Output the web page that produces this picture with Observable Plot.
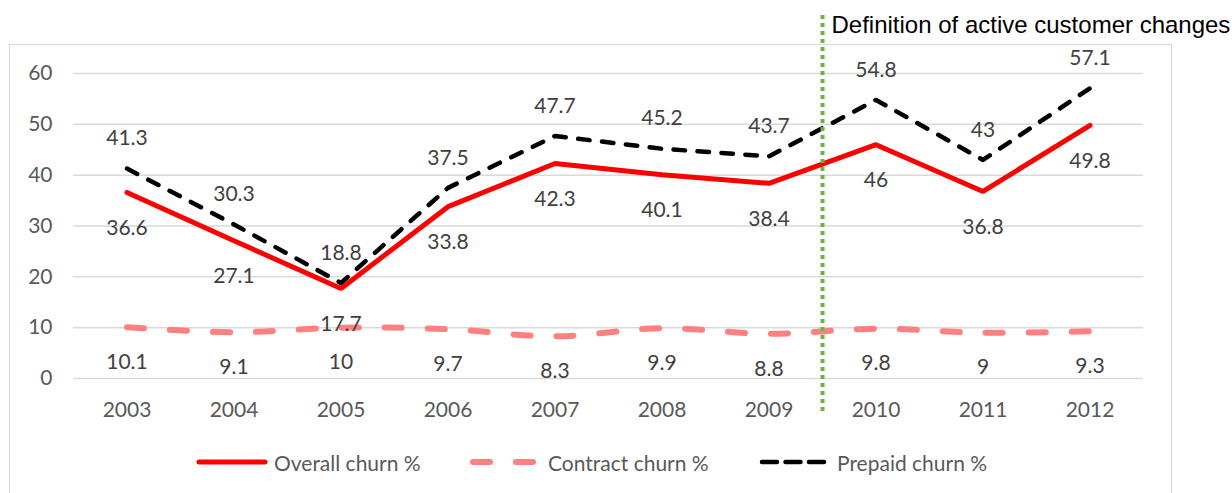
<!DOCTYPE html>
<html>
<head>
<meta charset="utf-8">
<script src="https://cdn.jsdelivr.net/npm/d3@7"></script>
<script src="https://cdn.jsdelivr.net/npm/@observablehq/plot@0.6"></script>
<style>
  html, body { margin: 0; padding: 0; background: #fff; }
  #wrap { position: relative; width: 1232px; height: 493px; overflow: hidden; background: #fff; }
  #frame { position: absolute; left: 9px; top: 44px; width: 1163px; height: 470px; border: 1.5px solid #D9D9D9; box-sizing: border-box; }
  #chart { position: absolute; left: 0; top: 0; }
  #legend { position: absolute; left: 0; top: 448px; width: 1232px; height: 28px;
            font-family: Lato, sans-serif; font-size: 21px; color: #595959; }
  .item { position: absolute; top: 0; display: flex; align-items: center; gap: 6px; height: 28px; }
</style>
</head>
<body>
<div id="wrap">
  <div id="frame"></div>
  <div id="chart"></div>
  <div id="legend"></div>
</div>
<script>
const years = [2003, 2004, 2005, 2006, 2007, 2008, 2009, 2010, 2011, 2012];
const overall = [36.6, 27.1, 17.7, 33.8, 42.3, 40.1, 38.4, 46, 36.8, 49.8];
const contract = [10.1, 9.1, 10, 9.7, 8.3, 9.9, 8.8, 9.8, 9, 9.3];
const prepaid = [41.3, 30.3, 18.8, 37.5, 47.7, 45.2, 43.7, 54.8, 43, 57.1];
const yTicks = [0, 10, 20, 30, 40, 50, 60];
const seriesNames = ["Overall churn %", "Contract churn %", "Prepaid churn %"];
const changeYear = 2009.5;
const annotation = "Definition of active customer changes";

const rows = (vals) => years.map((y, i) => ({year: y, value: vals[i]}));
const overallRows = rows(overall);
const contractRows = rows(contract);
const prepaidRows = rows(prepaid);

const styles = {
  overall: {stroke: "#FF0000", strokeWidth: 5, dash: null},
  contract: {stroke: "#FF8080", strokeWidth: 6, dash: "17,26"},
  prepaid: {stroke: "#000000", strokeWidth: 4.5, dash: "11.5,12.5"}
};
const labelColor = "#404040";
const fs = 21;

const chart = Plot.plot({
  width: 1232,
  height: 493,
  marginLeft: 73,
  marginRight: 89,
  marginTop: 73,
  marginBottom: 115,
  style: {fontFamily: "Lato, sans-serif", fontSize: fs + "px", background: "transparent", overflow: "visible"},
  x: {domain: [2002.5, 2012.5]},
  y: {domain: [0, 60]},
  marks: [
    Plot.gridY({ticks: yTicks, stroke: "#D9D9D9", strokeOpacity: 1, strokeWidth: 1.5}),
    Plot.axisY({ticks: yTicks, tickSize: 0, tickPadding: 21, color: "#595959", fontSize: fs, label: null}),
    Plot.axisX({ticks: years, tickFormat: d => String(d), tickSize: 0, tickPadding: 24, color: "#595959", fontSize: fs, label: null}),
    Plot.lineY(contractRows, {x: "year", y: "value", stroke: styles.contract.stroke, strokeWidth: styles.contract.strokeWidth,
      strokeDasharray: styles.contract.dash, strokeLinecap: "round", curve: "catmull-rom"}),
    Plot.lineY(overallRows, {x: "year", y: "value", stroke: styles.overall.stroke, strokeWidth: styles.overall.strokeWidth,
      strokeLinejoin: "miter", strokeLinecap: "round"}),
    Plot.lineY(prepaidRows, {x: "year", y: "value", stroke: styles.prepaid.stroke, strokeWidth: styles.prepaid.strokeWidth,
      strokeDasharray: styles.prepaid.dash, strokeLinecap: "round"}),
    Plot.ruleX([changeYear], {stroke: "#70AD47", strokeWidth: 4, strokeDasharray: "4,4", insetTop: -58, insetBottom: -37}),
    Plot.text([annotation], {x: changeYear, frameAnchor: "top", dy: -48, dx: 9, textAnchor: "start", lineAnchor: "middle",
      fill: "#000", fontSize: 24, fontFamily: "Liberation Sans, Arial, sans-serif", text: d => d}),
    Plot.text(overallRows, {x: "year", y: "value", text: d => String(d.value), dy: 36, lineAnchor: "middle", fill: labelColor, fontSize: fs}),
    Plot.text(contractRows, {x: "year", y: "value", text: d => String(d.value), dy: 35, lineAnchor: "middle", fill: labelColor, fontSize: fs}),
    Plot.text(prepaidRows, {x: "year", y: "value", text: d => String(d.value), dy: -30, lineAnchor: "middle", fill: labelColor, fontSize: fs})
  ]
});
document.getElementById("chart").appendChild(chart);

// legend
const legend = document.getElementById("legend");
const keys = ["overall", "contract", "prepaid"];
const lefts = [196, 470, 759];
keys.forEach((k, i) => {
  const s = styles[k];
  const item = document.createElement("div");
  item.className = "item";
  item.style.left = lefts[i] + "px";
  const dash = k === "prepaid" ? "15,8.5" : (s.dash || "");
  item.innerHTML = `<svg width="72" height="14"><line x1="3" y1="7" x2="69" y2="7" stroke="${s.stroke}" stroke-width="${s.strokeWidth}" stroke-linecap="round" ${dash ? `stroke-dasharray="${dash}"` : ""}/></svg><span>${seriesNames[i]}</span>`;
  legend.appendChild(item);
});
</script>
</body>
</html>
